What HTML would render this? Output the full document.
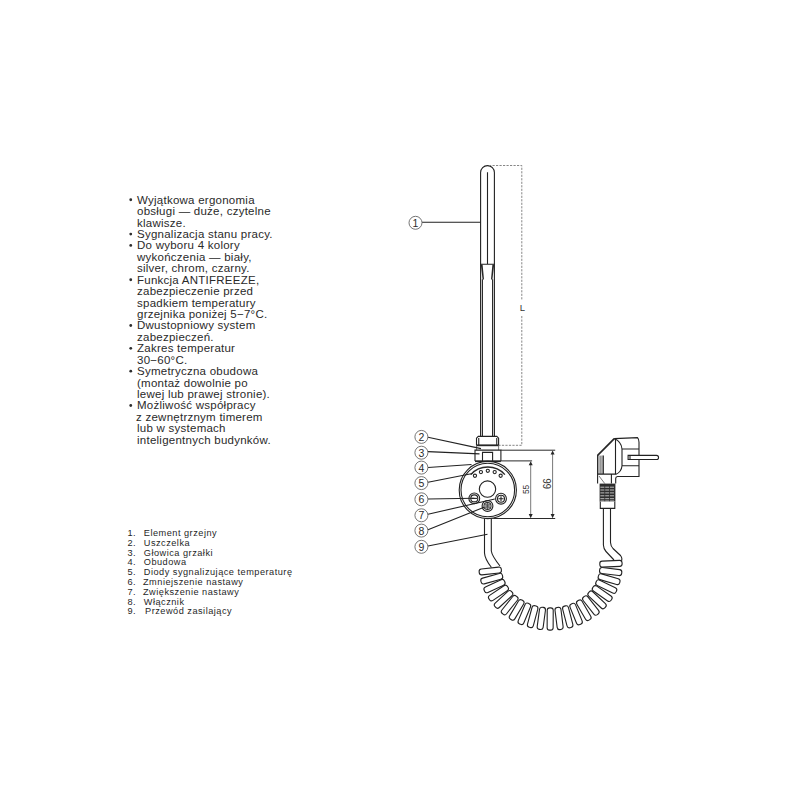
<!DOCTYPE html>
<html><head><meta charset="utf-8"><style>
html,body{margin:0;padding:0;background:#fff;}
svg{display:block;}
text{font-family:"Liberation Sans",sans-serif;}
.t1{font-size:11.5px;letter-spacing:0.25px;fill:#2a2a2a;}
.t2{font-size:9.2px;letter-spacing:0.5px;fill:#1f1f1f;}
.bul{fill:#2e2e2e;}
.num{font-size:10.5px;fill:#2a2a2a;}
.dim{font-size:9.5px;fill:#333;}
.dim2{font-size:10.6px;fill:#333;}
.dl{fill:none;stroke:#2a2a2a;stroke-width:1.0;}
.ln{fill:none;stroke:#222;stroke-width:1.1;}
.wf{fill:#fff;}
.thk{fill:none;stroke:#262626;stroke-width:1.8;}
.thin{fill:none;stroke:#444;stroke-width:0.7;}
.fl{fill:#262626;}
.dash{fill:none;stroke:#808080;stroke-width:0.95;stroke-dasharray:2.2,1.3;}
.lc{fill:#fff;stroke:#666;stroke-width:0.9;}
</style></head><body>
<svg width="800" height="800" viewBox="0 0 800 800">
<text x="137" y="203.75" class="t1">Wyjątkowa ergonomia</text>
<circle cx="130.75" cy="199.75" r="1.4" class="bul"/>
<text x="137" y="215.18" class="t1">obsługi — duże, czytelne</text>
<text x="137" y="226.61" class="t1">klawisze.</text>
<text x="137" y="238.04" class="t1">Sygnalizacja stanu pracy.</text>
<circle cx="130.75" cy="234.04" r="1.4" class="bul"/>
<text x="137" y="249.47" class="t1">Do wyboru 4 kolory</text>
<circle cx="130.75" cy="245.47" r="1.4" class="bul"/>
<text x="137" y="260.90" class="t1">wykończenia — biały,</text>
<text x="137" y="272.33" class="t1">silver, chrom, czarny.</text>
<text x="137" y="283.76" class="t1">Funkcja ANTIFREEZE,</text>
<circle cx="130.75" cy="279.76" r="1.4" class="bul"/>
<text x="137" y="295.19" class="t1">zabezpieczenie przed</text>
<text x="137" y="306.62" class="t1">spadkiem temperatury</text>
<text x="137" y="318.05" class="t1">grzejnika poniżej 5−7°C.</text>
<text x="137" y="329.48" class="t1">Dwustopniowy system</text>
<circle cx="130.75" cy="325.48" r="1.4" class="bul"/>
<text x="137" y="340.91" class="t1">zabezpieczeń.</text>
<text x="137" y="352.34" class="t1">Zakres temperatur</text>
<circle cx="130.75" cy="348.34" r="1.4" class="bul"/>
<text x="137" y="363.77" class="t1">30−60°C.</text>
<text x="137" y="375.20" class="t1">Symetryczna obudowa</text>
<circle cx="130.75" cy="371.20" r="1.4" class="bul"/>
<text x="137" y="386.63" class="t1">(montaż dowolnie po</text>
<text x="137" y="398.06" class="t1">lewej lub prawej stronie).</text>
<text x="137" y="409.49" class="t1">Możliwość współpracy</text>
<circle cx="130.75" cy="405.49" r="1.4" class="bul"/>
<text x="136" y="420.92" class="t1">z zewnętrznym timerem</text>
<text x="137" y="432.35" class="t1">lub w systemach</text>
<text x="137" y="443.78" class="t1">inteligentnych budynków.</text>
<text x="127.5" y="536.00" class="t2">1.</text>
<text x="143.75" y="536.00" class="t2">Element grzejny</text>
<text x="127.5" y="545.80" class="t2">2.</text>
<text x="143.75" y="545.80" class="t2">Uszczelka</text>
<text x="127.5" y="555.60" class="t2">3.</text>
<text x="143.75" y="555.60" class="t2">Głowica grzałki</text>
<text x="127.5" y="565.40" class="t2">4.</text>
<text x="143.75" y="565.40" class="t2">Obudowa</text>
<text x="127.5" y="575.20" class="t2">5.</text>
<text x="143.75" y="575.20" class="t2">Diody sygnalizujące temperaturę</text>
<text x="127.5" y="585.00" class="t2">6.</text>
<text x="143" y="585.00" class="t2">Zmniejszenie nastawy</text>
<text x="127.5" y="594.80" class="t2">7.</text>
<text x="143" y="594.80" class="t2">Zwiększenie nastawy</text>
<text x="127.5" y="604.60" class="t2">8.</text>
<text x="143.75" y="604.60" class="t2">Włącznik</text>
<text x="127.5" y="614.40" class="t2">9.</text>
<text x="145" y="614.40" class="t2">Przewód zasilający</text>
<path class="ln" d="M480.6,436.6 V172.5 A6.9,6.9 0 0 1 494.4,172.5 V436.6"/>
<path class="ln" d="M487.5,172.3 V264.3 M480.6,264.3 H494.4 M482.4,279.3 V436.6 M492.6,279.3 V436.6"/>
<path class="fl" d="M480.8,264.6 L482.6,264.6 L484.0,279.5 L482.6,279.5 Z M494.2,264.6 L492.4,264.6 L491.0,279.5 L492.4,279.5 Z"/>
<path class="dash" d="M489,165.5 H521.8 V299.5 M521.8,316 V445.3 H498.8"/>
<text x="522.4" y="310.8" class="dim" text-anchor="middle">L</text>
<path class="ln" d="M476.5,445.3 V438.2 L478.3,436.4 H496.8 L498.6,438.2 V445.3 M478.75,438 V445.3 M496.75,438 V445.3"/>
<path class="thk" d="M476.5,445.3 H498.6"/>
<path class="thin" d="M476.5,445.3 V450.1 M498.6,445.3 V450.1"/>
<path class="ln" d="M475,461 V450.1 H500.9 V461 M482.5,461 V452.4 H492.6 V461"/>
<path class="thk" d="M475,461.2 H500.9"/>
<path class="dl" d="M500.9,450.2 H555.2 M500.9,460.9 H532.1 M488,518.5 H555.2"/>
<path fill="none" stroke="#555" stroke-width="0.8" d="M530.7,464 V515.5 M552.6,453.5 V515.5"/>
<path class="fl" d="M530.7,461.2 L528.7,465.29999999999995 L532.7,465.29999999999995 Z M530.7,518.2 L528.7,514.0 L532.7,514.0 Z"/>
<path class="fl" d="M552.6,450.5 L550.6,454.59999999999997 L554.6,454.59999999999997 Z M552.6,518.2 L550.6,514.0 L554.6,514.0 Z"/>
<text transform="translate(528.8,489.4) rotate(-90) scale(0.88,1)" class="dim2" style="font-size:9.6px" text-anchor="middle">55</text>
<text transform="translate(551.0,483.7) rotate(-90) scale(0.9,1)" class="dim2" text-anchor="middle">66</text>
<circle class="ln wf" cx="487.8" cy="490" r="28.6"/>
<circle class="ln" cx="487.8" cy="490" r="26.8"/>
<path fill="none" stroke="#2a2a2a" stroke-width="1.4" d="M470.71,474.61 A23,23 0 0 1 504.89,474.61"/>
<circle class="ln" cx="474.95" cy="475.73" r="1.6"/>
<circle class="ln" cx="480.92" cy="472.08" r="1.6"/>
<circle class="ln" cx="487.80" cy="470.80" r="1.6"/>
<circle class="ln" cx="494.68" cy="472.08" r="1.6"/>
<circle class="ln" cx="500.65" cy="475.73" r="1.6"/>
<circle class="ln" cx="487.5" cy="489.1" r="8.2"/>
<circle class="ln wf" cx="474.3" cy="498.4" r="5.4"/>
<circle class="ln" cx="474.3" cy="498.4" r="3.5"/>
<circle class="ln wf" cx="501" cy="498.7" r="5.4"/>
<circle class="ln" cx="501" cy="498.7" r="3.5"/>
<circle class="ln wf" cx="487.5" cy="506" r="5.4"/>
<circle class="ln" cx="487.5" cy="506" r="3.5"/>
<path class="ln" d="M471.6,498.4 H477"/>
<path class="ln" d="M501,496.2 V501.2 M498.5,498.7 H503.5"/>
<circle cx="487.5" cy="506" r="3" fill="#999"/>
<path class="thin" d="M485,503.5 L490,508.5 M490,503.5 L485,508.5 M487.5,502.8 V509.2"/>
<path class="ln" d="M484.5,518.5 V553 Q484.8,559 491.5,567.5 M491.3,518.5 V551 Q492,556 500,566"/>
<path class="ln" d="M603.4,508.6 V545 Q603.6,549 606,551.5 L614,560 M610.5,508.6 V542.5 Q610.7,546 613,548.5 L620.5,555.5 Q623,558.5 621,562"/>
<rect class="ln wf" x="-11.15" y="-3.00" width="22.30" height="6.00" rx="2.5" transform="translate(490.27,570.99) rotate(173.84)"/><rect class="ln wf" x="-11.15" y="-3.00" width="22.30" height="6.00" rx="2.5" transform="translate(491.75,578.67) rotate(164.30)"/><rect class="ln wf" x="-11.15" y="-3.00" width="22.30" height="6.00" rx="2.5" transform="translate(494.51,586.08) rotate(154.96)"/><rect class="ln wf" x="-11.15" y="-3.00" width="22.30" height="6.00" rx="2.5" transform="translate(498.47,593.05) rotate(145.88)"/><rect class="ln wf" x="-11.15" y="-3.00" width="22.30" height="6.00" rx="2.5" transform="translate(503.56,599.44) rotate(137.13)"/><rect class="ln wf" x="-11.15" y="-3.00" width="22.30" height="6.00" rx="2.5" transform="translate(509.67,605.11) rotate(128.71)"/><rect class="ln wf" x="-11.15" y="-3.00" width="22.30" height="6.00" rx="2.5" transform="translate(516.65,609.93) rotate(120.60)"/><rect class="ln wf" x="-11.15" y="-3.00" width="22.30" height="6.00" rx="2.5" transform="translate(524.37,613.80) rotate(112.76)"/><rect class="ln wf" x="-11.15" y="-3.00" width="22.30" height="6.00" rx="2.5" transform="translate(532.65,616.64) rotate(105.14)"/><rect class="ln wf" x="-11.15" y="-3.00" width="22.30" height="6.00" rx="2.5" transform="translate(541.32,618.39) rotate(97.66)"/><rect class="ln wf" x="-11.15" y="-3.00" width="22.30" height="6.00" rx="2.5" transform="translate(550.18,619.00) rotate(90.26)"/><rect class="ln wf" x="-11.15" y="-3.00" width="22.30" height="6.00" rx="2.5" transform="translate(559.06,618.47) rotate(82.87)"/><rect class="ln wf" x="-11.15" y="-3.00" width="22.30" height="6.00" rx="2.5" transform="translate(567.74,616.80) rotate(75.40)"/><rect class="ln wf" x="-11.15" y="-3.00" width="22.30" height="6.00" rx="2.5" transform="translate(576.06,614.04) rotate(67.79)"/><rect class="ln wf" x="-11.15" y="-3.00" width="22.30" height="6.00" rx="2.5" transform="translate(583.82,610.24) rotate(59.97)"/><rect class="ln wf" x="-11.15" y="-3.00" width="22.30" height="6.00" rx="2.5" transform="translate(590.86,605.48) rotate(51.88)"/><rect class="ln wf" x="-11.15" y="-3.00" width="22.30" height="6.00" rx="2.5" transform="translate(597.04,599.87) rotate(43.48)"/><rect class="ln wf" x="-11.15" y="-3.00" width="22.30" height="6.00" rx="2.5" transform="translate(602.20,593.53) rotate(34.75)"/><rect class="ln wf" x="-11.15" y="-3.00" width="22.30" height="6.00" rx="2.5" transform="translate(606.25,586.59) rotate(25.70)"/><rect class="ln wf" x="-11.15" y="-3.00" width="22.30" height="6.00" rx="2.5" transform="translate(609.09,579.21) rotate(16.37)"/><rect class="ln wf" x="-11.15" y="-3.00" width="22.30" height="6.00" rx="2.5" transform="translate(610.67,571.54) rotate(6.84)"/><rect class="ln wf" x="-11.15" y="-3.00" width="22.30" height="6.00" rx="2.5" transform="translate(610.95,563.75) rotate(-2.77)"/>
<rect x="598.1" y="455.5" width="5.2" height="18.6" fill="#b4b4b4"/><path stroke="#888" stroke-width="0.8" d="M600.7,456 V473.5"/>
<path class="ln" d="M614.3,438.6 L637.5,437.6 Q639,439 639,442.3 V476.5 H617.5 Q615.7,476.6 615.7,478.5 V483.6 M597.6,483.6 V455 M603.3,455.5 V474.1 M597.6,474.1 H615.7 M615.5,438.6 V474.5 M611.4,474.1 V483.6"/>
<path class="ln" d="M614.3,438.6 Q621.5,442 622,449 V465.75 Q621.5,472 615.6,474.5 M622,449 H639 M622,465.75 H639"/>
<path fill="none" stroke="#262626" stroke-width="1.7" d="M597.6,455.3 L614.3,438.6"/>
<path class="thin" d="M599,476 L604.8,483.6"/>
<rect x="599.6" y="483.6" width="15.8" height="18.1" fill="#2e2e2e"/>
<path stroke="#d8d8d8" stroke-width="0.85" stroke-dasharray="4,0.8" d="M600.4,487.2 H614.8"/>
<path stroke="#d8d8d8" stroke-width="0.85" stroke-dasharray="4,0.8" d="M600.4,490.0 H614.8"/>
<path stroke="#d8d8d8" stroke-width="0.85" stroke-dasharray="4,0.8" d="M600.4,492.9 H614.8"/>
<path stroke="#d8d8d8" stroke-width="0.85" stroke-dasharray="4,0.8" d="M600.4,495.8 H614.8"/>
<path stroke="#d8d8d8" stroke-width="0.85" stroke-dasharray="4,0.8" d="M600.4,498.7 H614.8"/>
<path stroke="#d8d8d8" stroke-width="0.85" stroke-dasharray="4,0.8" d="M600.4,501.0 H614.8"/>
<path class="ln wf" d="M600.3,501.7 V508.4 H614.8 V501.7"/>
<path class="ln wf" d="M628.1,455.4 H656.5 A2.05,2.05 0 0 1 656.5,459.5 H628.1 Z M630,455.4 V459.5"/>
<path class="ln" d="M422,222.3 H480.6 M428,437.3 L481,448.6 M428,451.6 L479.5,453.9 M428,467.5 L471.5,464.5 M428,482.2 L472.5,473.5 M428,499 L474.3,498.3 M428,514.2 L494.8,499 M428,529.8 L484.1,507.2 M428,546 L487.5,534.2"/>
<circle class="lc" cx="415.5" cy="222.8" r="6.5"/>
<text x="415.5" y="226.70" class="num" text-anchor="middle">1</text>
<circle class="lc" cx="421.4" cy="436.9" r="6.5"/>
<text x="421.4" y="440.80" class="num" text-anchor="middle">2</text>
<circle class="lc" cx="421.4" cy="452.7" r="6.5"/>
<text x="421.4" y="456.60" class="num" text-anchor="middle">3</text>
<circle class="lc" cx="421.4" cy="467.6" r="6.5"/>
<text x="421.4" y="471.50" class="num" text-anchor="middle">4</text>
<circle class="lc" cx="421.4" cy="483.1" r="6.5"/>
<text x="421.4" y="487.00" class="num" text-anchor="middle">5</text>
<circle class="lc" cx="421.4" cy="499.3" r="6.5"/>
<text x="421.4" y="503.20" class="num" text-anchor="middle">6</text>
<circle class="lc" cx="421.4" cy="515.3" r="6.5"/>
<text x="421.4" y="519.20" class="num" text-anchor="middle">7</text>
<circle class="lc" cx="421.4" cy="530.6" r="6.5"/>
<text x="421.4" y="534.50" class="num" text-anchor="middle">8</text>
<circle class="lc" cx="421.4" cy="546.8" r="6.5"/>
<text x="421.4" y="550.70" class="num" text-anchor="middle">9</text>
</svg>
</body></html>
